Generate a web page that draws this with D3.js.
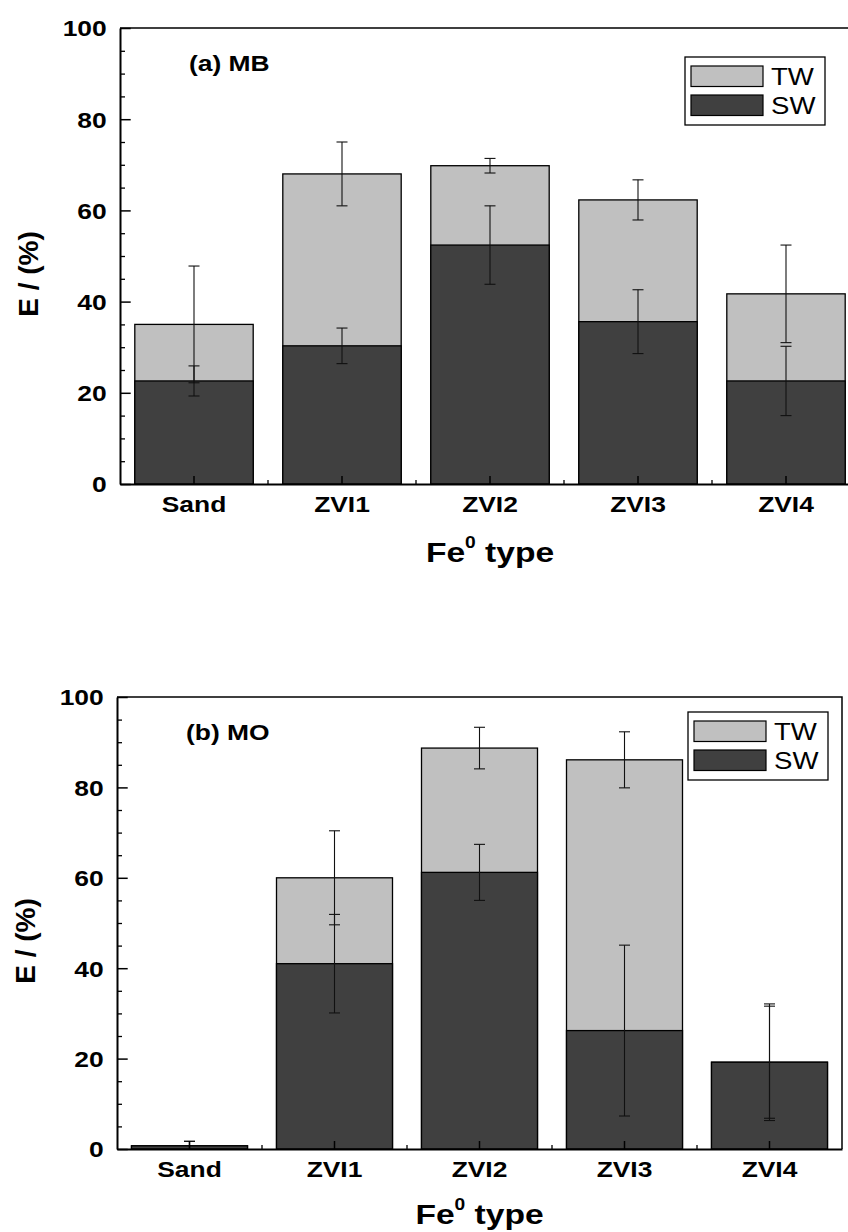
<!DOCTYPE html>
<html>
<head>
<meta charset="utf-8">
<script src="https://cdn.jsdelivr.net/npm/d3@7"></script>
<style>
  body { margin: 0; background: #fff; }
  svg text { font-family: "Liberation Sans", Arial, sans-serif; }
</style>
</head>
<body>
<div id="chart"></div>
<script>
// data
var categories = ["Sand", "ZVI1", "ZVI2", "ZVI3", "ZVI4"];
var seriesNames = ["TW", "SW"];
var yTicks = [0, 20, 40, 60, 80, 100];

// (a) MB
var mbTW = [35.0, 68.0, 69.8, 62.3, 41.7];
var mbTWerr = [12.8, 7.0, 1.6, 4.4, 10.7];
var mbSW = [22.6, 30.3, 52.4, 35.6, 22.6];
var mbSWerr = [3.3, 3.9, 8.6, 7.0, 7.6];

// (b) MO
var moTW = [0.7, 60.0, 88.7, 86.1, 19.2];
var moTWerr = [1.0, 10.4, 4.6, 6.2, 12.4];
var moSW = [0.7, 41.0, 61.2, 26.2, 19.2];
var moSWerr = [1.0, 10.9, 6.2, 18.9, 12.9];

var W = 848, H = 1232;
var SX = 1.2; // the figure text is stretched horizontally
var colTW = "#c0c0c0", colSW = "#404040";

var svg = d3.select("#chart").append("svg")
    .attr("width", W)
    .attr("height", H);

function panel(cfg) {
    var g = svg.append("g");

    var x = d3.scaleBand()
        .domain(categories)
        .range([cfg.left, cfg.right])
        .paddingInner(0.2)
        .paddingOuter(0.1);
    var y = d3.scaleLinear().domain([0, 100]).range([cfg.bottom, cfg.top]);

    // frame (top + right)
    g.append("path")
        .attr("d", "M" + cfg.left + "," + cfg.top + "H" + cfg.right + "V" + cfg.bottom)
        .attr("fill", "none")
        .attr("stroke", "#000")
        .attr("stroke-width", 1.5);

    var tw = categories.map(function (c, i) { return {c: c, v: cfg.tw[i], e: cfg.twErr[i]}; });
    var sw = categories.map(function (c, i) { return {c: c, v: cfg.sw[i], e: cfg.swErr[i]}; });

    // bars: TW behind, SW in front
    [[tw, colTW], [sw, colSW]].forEach(function (s) {
        g.append("g").selectAll("rect")
            .data(s[0])
            .enter()
            .append("rect")
            .attr("x", function (d) { return x(d.c); })
            .attr("y", function (d) { return y(d.v); })
            .attr("width", x.bandwidth())
            .attr("height", function (d) { return y(0) - y(d.v); })
            .attr("fill", s[1])
            .attr("stroke", "#000")
            .attr("stroke-width", 1.3);
    });

    // error bars
    var cap = 5.5;
    tw.concat(sw).forEach(function (d) {
        var cx = x(d.c) + x.bandwidth() / 2;
        var lo = Math.max(0, d.v - d.e), hi = d.v + d.e;
        var eg = g.append("g").attr("stroke", "#111").attr("stroke-width", 1.1);
        eg.append("line").attr("x1", cx).attr("x2", cx).attr("y1", y(lo)).attr("y2", y(hi));
        eg.append("line").attr("x1", cx - cap).attr("x2", cx + cap).attr("y1", y(hi)).attr("y2", y(hi));
        if (d.v - d.e > 0) {
            eg.append("line").attr("x1", cx - cap).attr("x2", cx + cap).attr("y1", y(lo)).attr("y2", y(lo));
        }
    });

    // y axis
    var yAxis = g.append("g")
        .attr("transform", "translate(" + cfg.left + ",0)")
        .call(d3.axisLeft(y).tickValues(yTicks).tickSize(-10.7).tickSizeOuter(0));
    yAxis.select(".domain").attr("stroke-width", 2);
    yAxis.selectAll(".tick line").attr("stroke-width", 1.5);
    yAxis.selectAll(".tick text")
        .attr("x", -13.3 / SX)
        .attr("dy", "0.36em")
        .attr("transform", "scale(" + SX + ",1)")
        .attr("font-size", 22)
        .attr("font-weight", "bold")
        .attr("fill", "#000");

    var minor = d3.range(5, 100, 5).filter(function (v) { return v % 20 !== 0; });
    g.append("g")
        .attr("transform", "translate(" + cfg.left + ",0)")
        .call(d3.axisLeft(y).tickValues(minor).tickSize(-5).tickFormat(""))
        .call(function (a) { a.select(".domain").remove(); })
        .selectAll(".tick line").attr("stroke-width", 1.3);

    // x axis
    var xAxis = g.append("g")
        .attr("transform", "translate(0," + cfg.bottom + ")")
        .call(d3.axisBottom(x).tickSize(-8).tickSizeOuter(0));
    xAxis.select(".domain").attr("stroke-width", 2);
    xAxis.selectAll(".tick line").attr("stroke-width", 1.5);
    xAxis.selectAll(".tick text")
        .attr("y", 28.5)
        .attr("dy", 0)
        .attr("transform", "scale(" + SX + ",1)")
        .attr("font-size", 22)
        .attr("font-weight", "bold")
        .attr("fill", "#000");

    // minor x ticks between categories
    g.append("g").selectAll("line")
        .data(categories.slice(1))
        .enter()
        .append("line")
        .attr("x1", function (c) { return x(c) - x.step() * x.paddingInner() / 2; })
        .attr("x2", function (c) { return x(c) - x.step() * x.paddingInner() / 2; })
        .attr("y1", cfg.bottom)
        .attr("y2", cfg.bottom - 4)
        .attr("stroke", "#000")
        .attr("stroke-width", 1.3);

    // axis titles
    g.append("text")
        .attr("transform", "translate(" + (cfg.left - 92) + "," + ((cfg.top + cfg.bottom) / 2 + 18) + ") rotate(-90)")
        .attr("text-anchor", "middle")
        .attr("dy", "0.36em")
        .attr("font-size", 28)
        .attr("font-weight", "bold")
        .text("E / (%)");

    var xt = g.append("text")
        .attr("transform", "translate(" + ((cfg.left + cfg.right) / 2) + "," + (cfg.bottom + cfg.titleOff) + ") scale(" + SX + ",1)")
        .attr("text-anchor", "middle")
        .attr("font-size", 28)
        .attr("font-weight", "bold");
    xt.append("tspan").text("Fe");
    xt.append("tspan").attr("dy", -14).attr("font-size", 16).text("0");
    xt.append("tspan").attr("dy", 14).text(" type");

    // panel label
    g.append("text")
        .attr("transform", "translate(" + (cfg.left + 69) + "," + (cfg.top + 43) + ") scale(" + SX + ",1)")
        .attr("font-size", 22)
        .attr("font-weight", "bold")
        .text(cfg.label);

    // legend
    var lg = g.append("g").attr("transform", "translate(" + cfg.legX + "," + cfg.legY + ")");
    lg.append("rect")
        .attr("width", 140).attr("height", 68)
        .attr("fill", "#fff").attr("stroke", "#000").attr("stroke-width", 1.3);
    seriesNames.forEach(function (name, i) {
        lg.append("rect")
            .attr("x", 6).attr("y", 9 + i * 29)
            .attr("width", 72).attr("height", 20.5)
            .attr("fill", i === 0 ? colTW : colSW)
            .attr("stroke", "#000").attr("stroke-width", 1.2);
        lg.append("text")
            .attr("transform", "translate(86," + (27.7 + i * 29) + ") scale(" + SX + ",1)")
            .attr("font-size", 23)
            .text(name);
    });
}

panel({
    left: 120, right: 860, top: 28, bottom: 484, titleOff: 78,
    tw: mbTW, twErr: mbTWerr, sw: mbSW, swErr: mbSWerr,
    label: "(a) MB", legX: 685, legY: 57
});

panel({
    left: 117, right: 842, top: 697, bottom: 1149, titleOff: 75,
    tw: moTW, twErr: moTWerr, sw: moSW, swErr: moSWerr,
    label: "(b) MO", legX: 688, legY: 712
});
</script>
</body>
</html>
